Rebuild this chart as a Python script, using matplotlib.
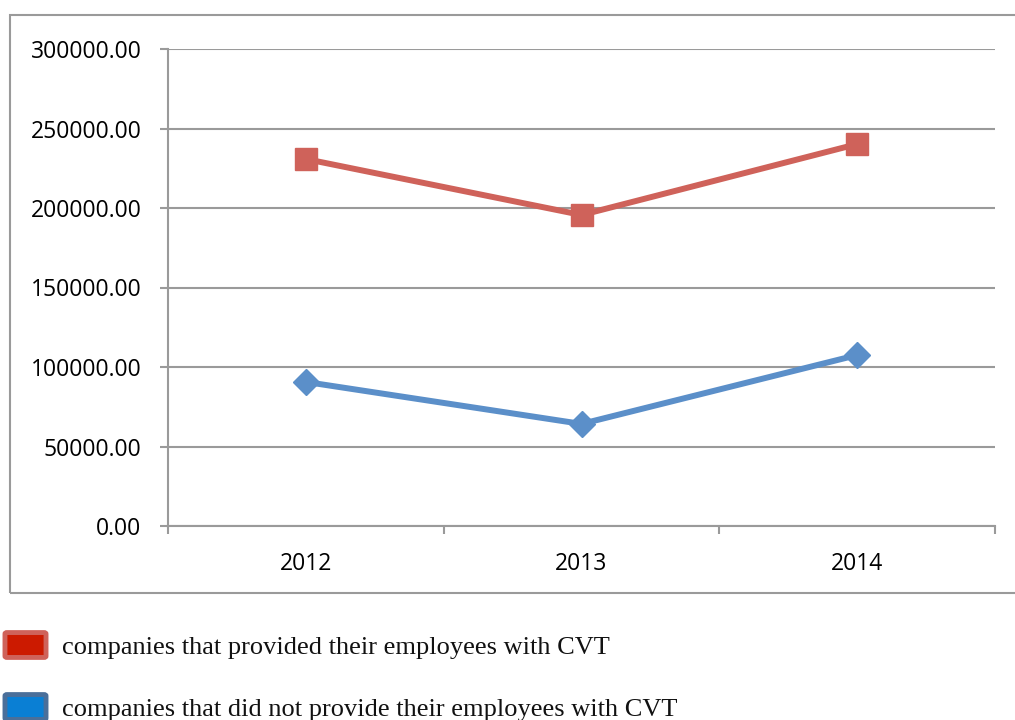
import matplotlib.pyplot as plt
from matplotlib.patches import FancyBboxPatch, Rectangle
from matplotlib.ticker import FixedLocator, FuncFormatter

years = ["2012", "2013", "2014"]
provided_cvt = [230800, 195600, 240200]
not_provided_cvt = [90600, 64200, 107500]

label_provided = "companies that provided their employees with CVT"
label_not_provided = "companies that did not provide their employees with CVT"

red = "#cf625a"
blue = "#5b8fc9"
gray = "#9a9a9a"

fig = plt.figure(figsize=(10.15, 7.2), dpi=100)

# outer chart frame
fig.patches.append(Rectangle((10 / 1015, 1 - 593 / 720), 1.2, (593 - 15) / 720,
                             transform=fig.transFigure, fill=False,
                             edgecolor=gray, linewidth=1.5))

ax = fig.add_axes([168 / 1015, 1 - 526 / 720, 827 / 1015, 477 / 720])

x = range(len(years))
ax.plot(x, provided_cvt, color=red, linewidth=4.3, marker="s",
        markersize=16, markeredgecolor=red, solid_joinstyle="miter", zorder=3)
ax.plot(x, not_provided_cvt, color=blue, linewidth=4.3, marker="D",
        markersize=13, markeredgecolor=blue, solid_joinstyle="miter", zorder=3)

ax.set_xlim(-0.5, 2.5)
ax.set_ylim(0, 300000)
ax.set_yticks(range(0, 300001, 50000))
ax.yaxis.set_major_formatter(FuncFormatter(lambda v, p: f"{v:.2f}"))
ax.grid(axis="y", color=gray, linewidth=1.5)
ax.set_axisbelow(True)

# category labels sit between the boundary ticks
ax.xaxis.set_major_locator(FixedLocator([-0.5, 0.5, 1.5, 2.5]))
ax.xaxis.set_minor_locator(FixedLocator(list(x)))
ax.xaxis.set_minor_formatter(FuncFormatter(lambda v, p: years[int(round(v))]))
ax.xaxis.set_major_formatter(FuncFormatter(lambda v, p: ""))

for side in ["top", "right"]:
    ax.spines[side].set_visible(False)
for side in ["left", "bottom"]:
    ax.spines[side].set_color(gray)
    ax.spines[side].set_linewidth(1.5)

ax.tick_params(axis="y", which="major", length=6, width=1.5, color=gray,
               pad=13, labelsize=16.5, labelfontfamily="Open Sans")
ax.tick_params(axis="x", which="major", length=6, width=1.5, color=gray)
ax.tick_params(axis="x", which="minor", length=0, pad=19, labelsize=16.5,
               labelfontfamily="Open Sans")

# legend below the chart frame
legend_items = [(label_provided, "#cc1a00", red, 645),
                (label_not_provided, "#0a7fd4", "#4a6f9a", 707)]
for text, face, edge, yc in legend_items:
    fig.patches.append(FancyBboxPatch((7 / 1015, 1 - (yc + 11) / 720),
                                      37 / 1015, 22 / 720,
                                      boxstyle="round,pad=0.002",
                                      transform=fig.transFigure,
                                      facecolor=face, edgecolor=edge,
                                      linewidth=3.5))
    fig.text(62 / 1015, 1 - (yc + 3) / 720, text, family="Liberation Serif",
             fontsize=19, va="center", ha="left", color="#111111")

fig.savefig("out.png", dpi=100)
